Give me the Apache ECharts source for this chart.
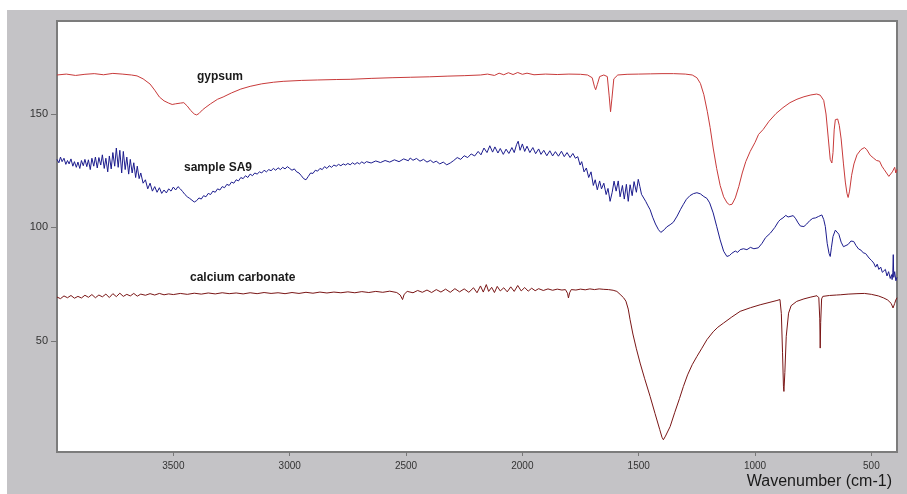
<!DOCTYPE html>
<html>
<head>
<meta charset="utf-8">
<script src="https://cdn.jsdelivr.net/npm/echarts@6/dist/echarts.min.js"></script>
<style>
  html, body { margin: 0; padding: 0; background: #fff; }
  #container { width: 907px; height: 494px; }
</style>
</head>
<body>
<div id="container"></div>
<script>
// wavenumber ticks and transmittance ticks
const xTicks = [500, 1000, 1500, 2000, 2500, 3000, 3500];
const yTicks = [50, 100, 150];

// [wavenumber, value]
const gypsum = [
  [4000,167.2],[3960,167.6],[3920,167.0],[3880,167.5],[3840,167.8],[3800,167.3],[3760,167.9],[3720,167.6],
  [3680,167.2],[3656,166.8],[3630,165.5],[3600,163.2],[3580,160.5],[3560,157.5],[3540,155.8],[3520,154.8],
  [3505,154.2],[3490,154.5],[3470,154.8],[3455,155],[3440,153.5],[3425,151.5],[3410,150],[3400,149.6],
  [3390,150.2],[3375,151.8],[3360,153],[3340,154.5],[3310,156.5],[3286,157.5],[3250,159.3],[3210,161],
  [3170,162.2],[3120,163.3],[3070,164],[3028,164.4],[2950,164.8],[2880,165],[2800,165.2],[2740,165.3],
  [2650,165.7],[2560,166],[2480,166.2],[2400,166.4],[2320,166.7],[2250,166.9],[2180,167.2],[2150,167.6],
  [2120,167.0],[2100,168.0],[2080,167.3],[2060,168.2],[2040,167.4],[2020,168.3],[2000,167.5],[1980,168],
  [1950,167.3],[1900,167.6],[1850,167.4],[1800,167.6],[1750,167.5],[1720,167.2],[1700,166],[1690,162],
  [1685,160.7],[1678,163],[1668,166.5],[1650,167.2],[1635,166.5],[1627,158],[1621,151],[1615,157],
  [1607,165.5],[1590,167.2],[1550,167.5],[1500,167.6],[1450,167.7],[1400,167.8],[1350,167.8],[1300,167.6],
  [1270,167.2],[1250,166],[1235,163.5],[1220,158.5],[1205,151],[1193,144],[1180,135],[1165,126],
  [1150,118.5],[1135,113.5],[1120,110.8],[1110,110],[1099,110.2],[1085,113],[1070,118],[1055,124],
  [1040,129],[1021,133.5],[1000,137.5],[985,141],[965,143.2],[940,146.8],[910,150.2],[880,152.8],
  [850,155],[820,156.5],[790,157.6],[760,158.4],[735,158.8],[720,158.3],[705,156],[695,150],
  [685,139],[677,130],[670,128.4],[665,133],[660,143],[655,147.5],[645,147.8],[638,145],
  [630,139],[620,128],[612,120],[605,115],[600,113.2],[594,116],[585,123],[575,128],
  [562,132],[545,134.3],[530,135.2],[520,134.3],[505,131.8],[490,130.5],[478,129.5],[465,129.2],
  [455,127],[445,125.5],[435,124],[425,122.5],[418,122],[410,124.5],[400,126.5],[395,124],[390,125.5]
];

const sampleSA9 = [
  [4000,130],[3992,128.5],[3985,131],[3978,129],[3970,130.5],[3962,127.8],[3955,129.5],[3948,128],
  [3940,130.2],[3932,127],[3925,129],[3917,126.5],[3910,128.8],[3902,126],[3895,129.5],[3887,127.2],
  [3880,130],[3872,126.8],[3865,129.8],[3857,125.5],[3850,130.5],[3842,127],[3835,131],[3827,126.2],
  [3820,130.8],[3812,127.5],[3805,132],[3797,126],[3790,130.5],[3782,124.5],[3775,131.5],[3767,125.8],
  [3760,133],[3752,127],[3745,135],[3737,126.5],[3730,134],[3722,124],[3715,133.5],[3707,125.5],
  [3700,131],[3692,123.5],[3685,130],[3677,124],[3670,128.5],[3662,122],[3655,127],[3647,121.5],
  [3640,124],[3630,119.5],[3620,121],[3610,117],[3600,119.5],[3590,116],[3580,118],[3570,115.5],
  [3560,117.5],[3550,115],[3540,116.5],[3530,115.2],[3520,117],[3510,116],[3500,117.8],[3490,116.5],
  [3480,118],[3470,117],[3460,115.8],[3450,114.5],[3440,113.5],[3430,112.8],[3420,112],[3410,111.2],
  [3400,111.8],[3390,113],[3380,112.5],[3370,114],[3360,113.5],[3350,115],[3340,114.5],[3330,116],
  [3320,115.5],[3310,117],[3300,116.5],[3290,118],[3280,117.5],[3270,119],[3260,118.5],[3250,120],
  [3240,119.5],[3230,121],[3220,120.5],[3210,122],[3200,121.5],[3190,122.8],[3180,122],[3170,123.5],
  [3160,122.8],[3150,124],[3140,123.5],[3130,124.5],[3120,124],[3110,125.2],[3100,124.5],[3090,125.5],
  [3080,125],[3070,126],[3060,125.2],[3050,126.3],[3040,125.5],[3030,126.5],[3020,125.8],[3010,126.8],
  [3000,126],[2990,125.2],[2980,125.8],[2970,124.5],[2960,124],[2950,122.8],[2940,121.5],[2930,121],
  [2920,122.5],[2910,124],[2900,123.8],[2890,125.2],[2880,124.8],[2870,126],[2860,125.5],[2850,126.8],
  [2840,126],[2830,127.2],[2820,126.5],[2810,127.5],[2800,127],[2790,127.8],[2780,127.2],[2770,128],
  [2760,127.5],[2750,128.2],[2740,127.6],[2730,128.5],[2720,127.8],[2710,128.6],[2700,128],[2690,128.9],
  [2680,128.2],[2670,129],[2650,128.4],[2630,129.3],[2610,128.6],[2590,129.5],[2570,128.8],[2550,129.8],
  [2530,129],[2510,130.2],[2490,129.4],[2482,130.6],[2470,129.6],[2455,130.4],[2440,129.2],[2425,130],
  [2410,128.8],[2395,129.6],[2383,128.6],[2370,129.2],[2355,128],[2340,128.8],[2325,127.6],[2310,128.4],
  [2295,129.5],[2280,130.8],[2265,130],[2250,131.6],[2235,130.8],[2220,132.4],[2205,131.5],[2190,133.5],
  [2178,132],[2165,135],[2152,133],[2140,136],[2128,133.2],[2118,135.5],[2105,132.8],[2095,134.8],
  [2082,132.2],[2070,134.5],[2058,132.6],[2045,135.2],[2035,133],[2025,136.5],[2018,138],[2010,134],
  [2000,136.8],[1990,133.5],[1980,135.8],[1968,133],[1955,135.2],[1943,132.5],[1930,134.6],[1920,132.2],
  [1908,134],[1895,131.6],[1882,133.8],[1870,131.5],[1858,133.4],[1845,131.4],[1832,133.6],[1820,131.2],
  [1808,133],[1795,130.8],[1783,132.6],[1772,130.5],[1762,131.2],[1752,127.5],[1745,129],[1735,124.5],
  [1725,126.2],[1715,122],[1705,124.5],[1695,118.5],[1687,121],[1678,116.6],[1668,120.5],[1660,117],
  [1650,119.5],[1640,114.5],[1632,117.2],[1623,111.5],[1614,115.5],[1606,120.4],[1597,116],[1588,120.5],
  [1580,113.5],[1570,118.5],[1562,112.5],[1553,119],[1545,111.5],[1537,118.8],[1528,114],[1520,120.2],
  [1510,115.5],[1502,121.2],[1495,118],[1488,114.6],[1481,115.2],[1470,111.5],[1460,109.5],[1451,107.8],
  [1440,104.5],[1428,101.5],[1415,99],[1405,97.8],[1400,97.4],[1390,99],[1380,100.2],[1365,101.2],
  [1351,102.3],[1335,105],[1320,108],[1309,110],[1295,112.4],[1280,114],[1265,114.9],[1250,115.3],
  [1235,114.8],[1220,113.6],[1207,112.8],[1195,110.8],[1180,106.4],[1165,100.5],[1150,94.5],[1135,89.5],
  [1121,87.2],[1110,87.6],[1100,88.6],[1085,89.6],[1075,89],[1064,90.2],[1050,90.6],[1035,90.2],
  [1020,91.2],[1005,90.6],[986,91],[970,93],[955,95.5],[934,97.5],[915,100],[900,102.5],
  [892,103.4],[880,104.2],[868,105.3],[858,104.6],[850,105.2],[836,105.2],[825,103.8],[815,102],
  [805,100.6],[790,100.4],[778,101.5],[765,103],[752,104],[740,104.2],[728,104.8],[713,105.5],
  [705,103.5],[698,100.4],[690,93],[682,88.5],[677,87.2],[672,91],[665,96],[655,98.8],
  [648,99],[640,97],[630,93.5],[620,91.5],[612,91],[600,92.5],[588,94],[576,93.8],
  [566,92],[555,90.5],[545,90],[535,88.8],[525,88.5],[519,88],[510,86.5],[500,85.5],
  [490,84.3],[482,82.5],[475,83.8],[468,81.5],[460,82.5],[453,80.2],[447,79.9],[440,81.5],
  [433,78.6],[426,80.5],[419,77.5],[413,79.2],[411,77],[408,80],[406,88],[404,78],
  [400,80.5],[395,76.5],[390,78]
];

const calciumCarbonate = [
  [4000,69.3],[3985,68.6],[3970,69.8],[3955,69],[3940,70],[3925,68.8],[3910,69.6],[3895,68.9],
  [3880,70.1],[3865,69.2],[3850,70.4],[3835,69],[3820,70.2],[3805,69.4],[3790,70.6],[3775,69.1],
  [3760,70.8],[3745,69.5],[3730,71],[3715,69.6],[3700,70.5],[3685,69.8],[3670,70.9],[3655,69.7],
  [3640,70.6],[3620,70.1],[3600,70.8],[3580,70.2],[3560,70.9],[3540,70.3],[3520,70.7],[3500,70.4],
  [3470,70.9],[3440,70.5],[3410,71],[3380,70.6],[3350,71.1],[3320,70.7],[3290,71.2],[3260,70.8],
  [3230,71.1],[3200,70.7],[3170,71.2],[3140,70.8],[3110,71.3],[3080,70.9],[3050,71.2],[3020,70.8],
  [2990,71.3],[2960,70.9],[2930,71.4],[2900,71],[2870,71.5],[2840,71.1],[2810,71.5],[2780,71.2],
  [2750,71.6],[2720,71.2],[2690,71.7],[2660,71.3],[2630,71.8],[2600,71.4],[2570,71.9],[2540,71.3],
  [2525,70.2],[2515,68.2],[2508,70.5],[2495,71.8],[2470,71.2],[2450,72.2],[2430,71.4],[2410,72.4],
  [2390,71.3],[2370,72.6],[2350,71.5],[2330,72.8],[2310,71.4],[2290,73],[2270,71.6],[2250,72.9],
  [2230,71.4],[2210,73.4],[2195,71.2],[2180,74.2],[2168,71.5],[2155,74.8],[2145,71.8],[2132,73.6],
  [2120,71.3],[2108,74],[2095,72],[2080,73.4],[2065,71.6],[2050,73.8],[2035,71.8],[2020,74.4],
  [2005,72],[1990,73.5],[1975,71.9],[1960,73.2],[1945,72.1],[1930,73],[1910,72.2],[1890,72.9],
  [1870,72.3],[1850,72.8],[1830,72.4],[1815,72.6],[1806,71],[1802,68.9],[1797,71.2],[1790,72.6],
  [1770,72.4],[1750,72.8],[1730,72.5],[1710,72.9],[1690,72.6],[1670,72.9],[1650,72.7],[1630,72.6],
  [1610,72.3],[1594,71.8],[1580,70.5],[1565,69],[1555,67.5],[1545,64],[1537,59.3],[1525,53],
  [1510,46.5],[1494,40.2],[1475,33.5],[1451,25.5],[1430,18],[1410,11],[1400,7.5],[1394,6.4],
  [1385,8],[1365,12.2],[1345,18.5],[1325,24.5],[1308,29.9],[1290,35],[1270,39.5],[1250,43.1],
  [1230,46.5],[1207,50.5],[1180,54],[1160,56],[1136,57.8],[1100,60.5],[1064,63],[1020,64.6],
  [978,65.9],[940,66.9],[906,67.8],[893,68.2],[887,62],[882,45],[878,30],[876,27.7],
  [872,36],[866,52],[856,62.2],[845,65.5],[821,67.4],[790,68.5],[760,69.3],[734,69.9],
  [726,69],[722,60],[720,46.8],[718,58],[714,68.5],[709,69.6],[680,70],[650,70.2],
  [634,70.3],[600,70.6],[562,70.8],[530,70.9],[500,70.5],[470,69.8],[447,68.9],[430,68],
  [415,66.5],[407,64.5],[400,66.5],[395,68],[390,69]
];

const seriesNames = ["gypsum", "sample SA9", "calcium carbonate"];

let dom = document.getElementById("container");
let myChart = echarts.init(dom, null, { renderer: "canvas" });

const labelStyle = {
  fontFamily: "Liberation Sans, Arial, sans-serif",
  fontSize: 12,
  fontWeight: "bold",
  fill: "#1a1a1a",
  verticalAlign: "middle",
};

let option = {
  animation: false,
  backgroundColor: "#c4c3c6",
  graphic: [
    // white margin above and left of the grey panel
    { type: "rect", left: 0, top: 0, shape: { width: 907, height: 10 }, style: { fill: "#fff" }, silent: true },
    { type: "rect", left: 0, top: 0, shape: { width: 7, height: 494 }, style: { fill: "#fff" }, silent: true },
    { type: "text", left: 197, top: 71, style: Object.assign({ text: seriesNames[0] }, labelStyle) },
    { type: "text", left: 184, top: 162, style: Object.assign({ text: seriesNames[1] }, labelStyle) },
    { type: "text", left: 190, top: 272, style: Object.assign({ text: seriesNames[2] }, labelStyle) },
    {
      type: "text", right: 15, top: 474,
      style: { text: "Wavenumber (cm-1)", fontFamily: "Liberation Sans, Arial, sans-serif", fontSize: 16, fill: "#1a1a1a" },
    },
  ],
  grid: {
    left: 57,
    right: 10,
    top: 21,
    bottom: 42,
    show: true,
    backgroundColor: "#fff",
    borderColor: "#7c7c7c",
    borderWidth: 2,
  },
  xAxis: {
    type: "value",
    inverse: true,
    min: 390,
    max: 4000,
    axisLine: { show: false },
    splitLine: { show: false },
    axisTick: { customValues: xTicks, length: 4, lineStyle: { color: "#777" } },
    axisLabel: {
      customValues: xTicks,
      formatter: (v) => String(v),
      margin: 9,
      fontSize: 10,
      color: "#333",
      fontFamily: "Liberation Sans, Arial, sans-serif",
    },
  },
  yAxis: {
    type: "value",
    min: 1,
    max: 191,
    axisLine: { show: false },
    splitLine: { show: false },
    axisTick: { customValues: yTicks, length: 6, lineStyle: { color: "#777" } },
    axisLabel: {
      customValues: yTicks,
      formatter: (v) => String(v),
      margin: 9,
      fontSize: 11,
      color: "#333",
      fontFamily: "Liberation Sans, Arial, sans-serif",
    },
  },
  series: [
    { name: seriesNames[0], type: "line", data: gypsum, showSymbol: false, lineStyle: { width: 1, color: "#c83a3a" } },
    { name: seriesNames[1], type: "line", data: sampleSA9, showSymbol: false, lineStyle: { width: 1, color: "#1c1c8e" } },
    { name: seriesNames[2], type: "line", data: calciumCarbonate, showSymbol: false, lineStyle: { width: 1, color: "#7a1616" } },
  ],
};

myChart.setOption(option);
window.addEventListener("resize", myChart.resize);
</script>
</body>
</html>
